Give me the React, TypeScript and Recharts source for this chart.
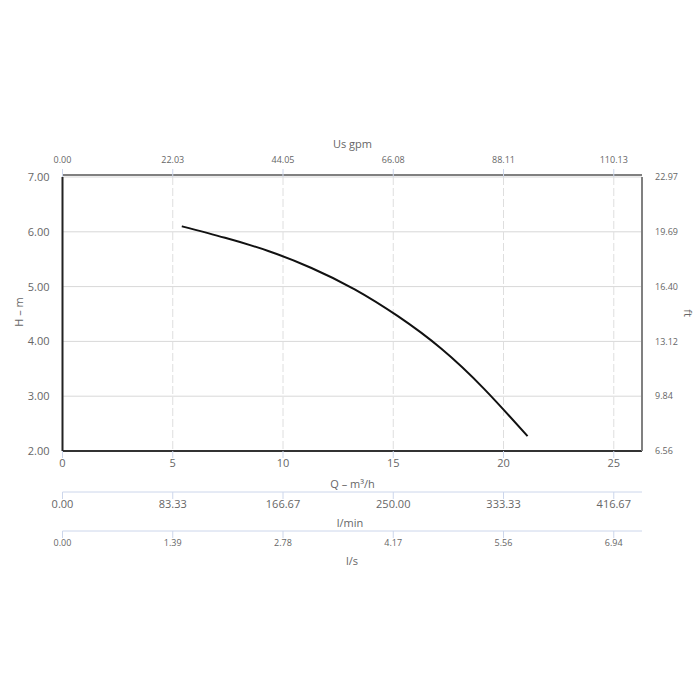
import React from "react";
import { LineChart, Line, XAxis, YAxis, CartesianGrid, Label } from "recharts";

// ---- data ----
const flowM3h = [5.41, 7.37, 9.33, 11.29, 13.25, 15.21, 17.17, 19.13, 21.09];
const headM = [6.1, 5.89, 5.65, 5.34, 4.95, 4.46, 3.87, 3.13, 2.27];

const qTicks = [0, 5, 10, 15, 20, 25];
const qTickLabels = ["0", "5", "10", "15", "20", "25"];
const gpmTickLabels = ["0.00", "22.03", "44.05", "66.08", "88.11", "110.13"];
const lminTickLabels = ["0.00", "83.33", "166.67", "250.00", "333.33", "416.67"];
const lsTickLabels = ["0.00", "1.39", "2.78", "4.17", "5.56", "6.94"];

const hTicks = [2, 3, 4, 5, 6, 7];
const hTickLabels = ["2.00", "3.00", "4.00", "5.00", "6.00", "7.00"];
const ftTickLabels = ["6.56", "9.84", "13.12", "16.40", "19.69", "22.97"];

const qDomain = [0, 26.28];
const hDomain = [2, 7];

const data = flowM3h.map((q, i) => ({ q, h: headM[i] }));

const FONT = "'Open Sans', sans-serif";
const TXT = "#666666";

const title = (x: number, y: number, text: string, angle = 0) => () =>
  (
    <text
      x={x}
      y={y}
      transform={angle ? `rotate(${angle} ${x} ${y})` : undefined}
      textAnchor="middle"
      dominantBaseline="central"
      fill={TXT}
      fontSize={11}
      fontFamily={FONT}
    >
      {text}
    </text>
  );

export default function App() {
  const tick = (size: number) => ({ fill: TXT, fontSize: size, fontFamily: FONT });
  return (
    <div style={{ position: "absolute", left: 0, top: 0, width: 700, height: 700, background: "#fff" }}>
      <LineChart
        width={700}
        height={700}
        data={data}
        margin={{ top: 130, right: 0, bottom: 129, left: 0 }}
      >
        <CartesianGrid
          xAxisId="a_q"
          yAxisId="h"
          horizontal={true}
          vertical={false}
          stroke="#d8d8d8"
          strokeWidth={1}
        />
        <CartesianGrid
          xAxisId="a_q"
          yAxisId="h"
          horizontal={false}
          vertical={true}
          stroke="#dedede"
          strokeWidth={1}
          strokeDasharray="8 3"
        />
        <XAxis
          xAxisId="gpm"
          orientation="top"
          type="number"
          dataKey="q"
          domain={qDomain}
          ticks={qTicks}
          interval={0}
          allowDataOverflow
          height={47}
          tickFormatter={(_v: number, i: number) => gpmTickLabels[i]}
          tick={tick(9)}
          tickSize={8}
          tickMargin={6}
          tickLine={{ stroke: "#ccd6eb" }}
          axisLine={{ stroke: "#808080", strokeWidth: 2, transform: "translate(0,-2)" }}
        >
          <Label content={title(352.5, 143, "Us gpm")} />
        </XAxis>
        <XAxis
          xAxisId="a_q"
          orientation="bottom"
          type="number"
          dataKey="q"
          domain={qDomain}
          ticks={qTicks}
          interval={0}
          allowDataOverflow
          height={41}
          tickFormatter={(_v: number, i: number) => qTickLabels[i]}
          tick={tick(11)}
          tickSize={7}
          tickMargin={1}
          tickLine={{ stroke: "#ccd6eb" }}
          axisLine={{ stroke: "#333333", strokeWidth: 2 }}
        >
          <Label content={title(352.5, 483, "Q – m³/h")} />
        </XAxis>
        <XAxis
          xAxisId="b_lmin"
          orientation="bottom"
          type="number"
          dataKey="q"
          domain={qDomain}
          ticks={qTicks}
          interval={0}
          allowDataOverflow
          height={39}
          tickFormatter={(_v: number, i: number) => lminTickLabels[i]}
          tick={tick(11)}
          tickSize={7}
          tickMargin={1}
          tickLine={{ stroke: "#ccd6eb" }}
          axisLine={{ stroke: "#ccd6eb", strokeWidth: 1 }}
        >
          <Label content={title(350, 522, "l/min")} />
        </XAxis>
        <XAxis
          xAxisId="c_ls"
          orientation="bottom"
          type="number"
          dataKey="q"
          domain={qDomain}
          ticks={qTicks}
          interval={0}
          allowDataOverflow
          height={40}
          tickFormatter={(_v: number, i: number) => lsTickLabels[i]}
          tick={tick(9)}
          tickSize={7}
          tickMargin={2}
          tickLine={{ stroke: "#ccd6eb" }}
          axisLine={{ stroke: "#ccd6eb", strokeWidth: 1 }}
        >
          <Label content={title(352, 560, "l/s")} />
        </XAxis>
        <YAxis
          yAxisId="h"
          orientation="left"
          type="number"
          domain={hDomain}
          ticks={hTicks}
          interval={0}
          allowDataOverflow
          width={62.5}
          tickFormatter={(_v: number, i: number) => hTickLabels[i]}
          tick={tick(11)}
          tickLine={false}
          tickSize={0}
          tickMargin={13}
          axisLine={{ stroke: "#222222", strokeWidth: 2 }}
        >
          <Label content={title(18, 312, "H – m", -90)} />
        </YAxis>
        <YAxis
          yAxisId="ft"
          orientation="right"
          type="number"
          domain={hDomain}
          ticks={hTicks}
          interval={0}
          allowDataOverflow
          width={58}
          tickFormatter={(_v: number, i: number) => ftTickLabels[i]}
          tick={tick(9)}
          tickLine={false}
          tickSize={0}
          tickMargin={13}
          axisLine={{ stroke: "#808080", strokeWidth: 2 }}
        >
          <Label content={title(688, 313, "ft", 90)} />
        </YAxis>
        <Line
          xAxisId="a_q"
          yAxisId="h"
          type="natural"
          dataKey="h"
          stroke="#111111"
          strokeWidth={2}
          dot={false}
          activeDot={false}
          isAnimationActive={false}
        />
      </LineChart>
    </div>
  );
}
